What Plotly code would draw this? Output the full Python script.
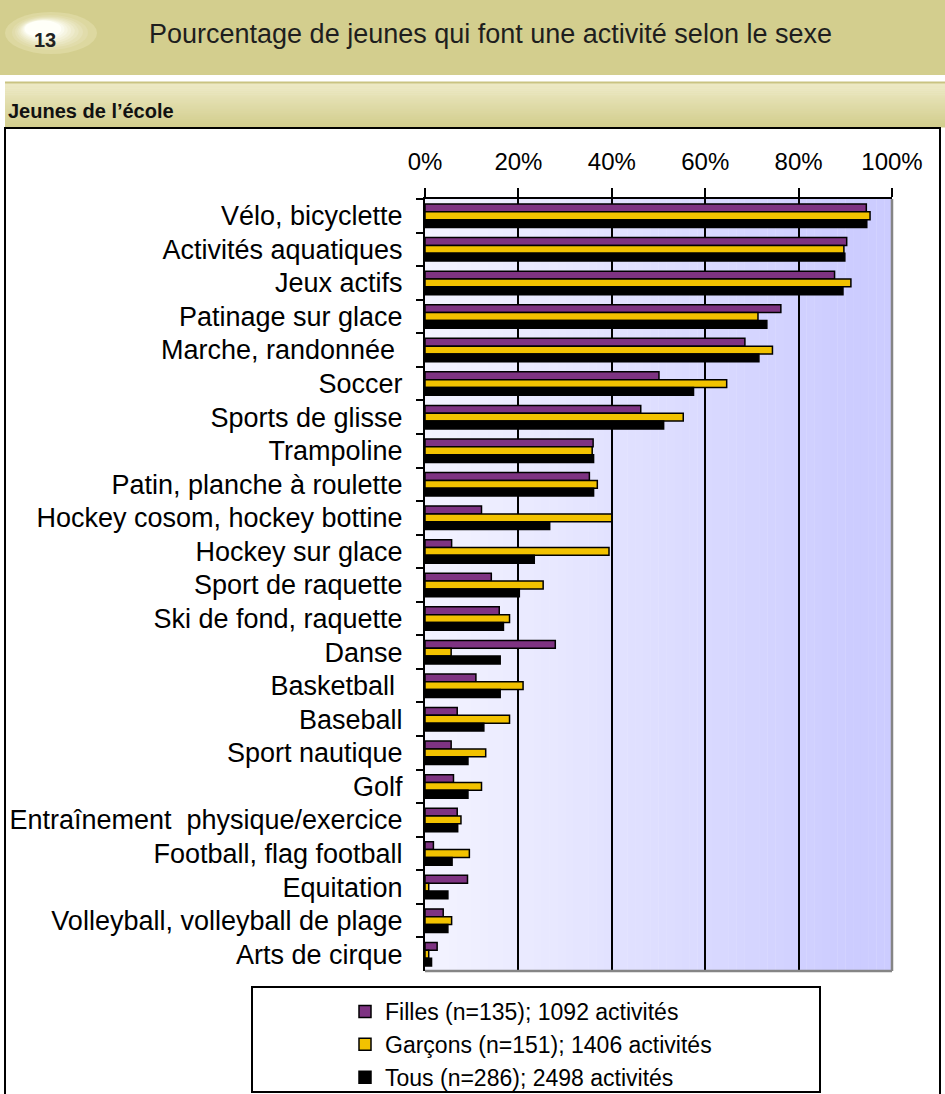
import plotly.graph_objects as go

categories = [
    "Vélo, bicyclette", "Activités aquatiques", "Jeux actifs", "Patinage sur glace",
    "Marche, randonnée ", "Soccer", "Sports de glisse", "Trampoline",
    "Patin, planche à roulette", "Hockey cosom, hockey bottine", "Hockey sur glace",
    "Sport de raquette", "Ski de fond, raquette", "Danse", "Basketball ", "Baseball",
    "Sport nautique", "Golf", "Entraînement  physique/exercice", "Football, flag football",
    "Equitation", "Volleyball, volleyball de plage", "Arts de cirque",
]
filles = [94.5, 90.3, 87.7, 76.2, 68.5, 50.1, 46.2, 36.0, 35.2, 12.1, 5.7, 14.2,
          15.9, 27.9, 10.9, 6.9, 5.6, 6.1, 6.9, 1.8, 9.1, 3.9, 2.6]
garcons = [95.3, 89.7, 91.2, 71.3, 74.4, 64.6, 55.3, 35.8, 36.9, 40.0, 39.4, 25.3,
           18.1, 5.6, 21.0, 18.1, 13.0, 12.1, 7.7, 9.5, 0.8, 5.7, 0.8]
tous = [94.6, 89.9, 89.5, 73.2, 71.5, 57.5, 51.1, 36.1, 36.1, 26.7, 23.4, 20.2,
        16.8, 16.1, 16.1, 12.6, 9.2, 9.2, 7.0, 5.8, 4.9, 4.9, 1.4]
series_names = ["Filles (n=135); 1092 activités", "Garçons (n=151); 1406 activités",
                "Tous (n=286); 2498 activités"]
series_colors = ["#7E3382", "#F2C200", "#000000"]
x_ticks = [0, 20, 40, 60, 80, 100]
x_tick_labels = ["0%", "20%", "40%", "60%", "80%", "100%"]

W_FIG, H_FIG = 945, 1094
L, R, T, B = 425, 892, 199, 971
MB = 5
PAPER_BOTTOM = H_FIG - MB


def px(x):
    return (x - L) / (R - L)


def py(y):
    return (PAPER_BOTTOM - y) / (PAPER_BOTTOM - T)


FONT = "Liberation Sans, Arial, sans-serif"

fig = go.Figure()
for name, vals, col in zip(series_names, [filles, garcons, tous], series_colors):
    fig.add_trace(go.Bar(
        y=categories, x=vals, name=name, orientation="h", legendgroup=name,
        marker=dict(color=col, line=dict(color="#000000", width=1.5)),
    ))

shapes = []
# header band
shapes.append(dict(type="rect", xref="paper", yref="paper", x0=px(0), x1=px(945),
                   y0=py(75), y1=py(0), fillcolor="#D3CE8E", line=dict(width=0), layer="below"))
# badge (radial-ish gradient)
badge_steps = 9
for i in range(badge_steps):
    f = i / (badge_steps - 1)
    r = int(0xDD + (0xFF - 0xDD) * f)
    g = int(0xD8 + (0xFF - 0xD8) * f)
    b = int(0xA0 + (0xF8 - 0xA0) * f)
    sx = 46 * (1 - 0.6 * f ** 0.6)
    sy = 21 * (1 - 0.6 * f ** 0.6)
    cx, cy = 51 - 8 * f, 33 - 4 * f
    shapes.append(dict(type="circle", xref="paper", yref="paper",
                       x0=px(cx - sx), x1=px(cx + sx), y0=py(cy + sy), y1=py(cy - sy),
                       fillcolor=f"rgb({r},{g},{b})", line=dict(width=0), layer="below"))
# sub header band with vertical gradient
sub_steps = 22
y_top, y_bot = 82, 127
for i in range(sub_steps):
    f = i / (sub_steps - 1)
    ya = y_top + (y_bot - y_top) * i / sub_steps
    yb = y_top + (y_bot - y_top) * (i + 1) / sub_steps
    r = int(0xEE + (0xD3 - 0xEE) * f)
    g = int(0xEA + (0xCE - 0xEA) * f)
    b = int(0xC6 + (0x8E - 0xC6) * f)
    shapes.append(dict(type="rect", xref="paper", yref="paper", x0=px(5), x1=px(945),
                       y0=py(yb + 0.6), y1=py(ya), fillcolor=f"rgb({r},{g},{b})",
                       line=dict(width=0), layer="below"))
shapes.append(dict(type="line", xref="paper", yref="paper", x0=px(5), x1=px(945),
                   y0=py(82.5), y1=py(82.5), line=dict(color="#C9C382", width=2), layer="below"))
# chart frame
shapes.append(dict(type="rect", xref="paper", yref="paper", x0=px(5), x1=px(940),
                   y0=py(1100), y1=py(128), line=dict(color="#000000", width=2),
                   fillcolor="rgba(0,0,0,0)", layer="below"))
# plot-area gradient background
n_strips = 60
for i in range(n_strips):
    xa = 100 * i / n_strips
    xb = 100 * (i + 1) / n_strips
    f = min(1.0, (xa + xb) / 2 / 92)
    r = int(244 + (204 - 244) * f)
    g = int(244 + (204 - 244) * f)
    shapes.append(dict(type="rect", xref="x", yref="y domain", x0=xa, x1=xb + 0.05, y0=0, y1=1,
                       fillcolor=f"rgb({r},{g},255)", line=dict(width=0), layer="below"))
# grey right & bottom edges
shapes.append(dict(type="line", xref="x domain", yref="y domain", x0=1, x1=1, y0=0, y1=1,
                   line=dict(color="#858585", width=2.5), layer="above"))
shapes.append(dict(type="line", xref="x domain", yref="y domain", x0=0, x1=1, y0=0, y1=0,
                   line=dict(color="#858585", width=2.5), layer="above"))
# legend frame
shapes.append(dict(type="rect", xref="paper", yref="paper", x0=px(252), x1=px(820),
                   y0=py(1092), y1=py(987), line=dict(color="#000000", width=2),
                   fillcolor="rgba(0,0,0,0)", layer="above"))

annotations = [
    dict(text="13", xref="paper", yref="paper", x=px(45), y=py(40), showarrow=False,
         font=dict(family=FONT, size=20, color="#222222", weight="bold"),
         xanchor="center", yanchor="middle"),
    dict(text="Pourcentage de jeunes qui font une activité selon le sexe", xref="paper",
         yref="paper", x=px(147), y=py(34), showarrow=False, xanchor="left", yanchor="middle",
         font=dict(family=FONT, size=27, color="#1E1E1E")),
    dict(text="Jeunes de l’école", xref="paper", yref="paper", x=px(6), y=py(111),
         showarrow=False, xanchor="left", yanchor="middle",
         font=dict(family=FONT, size=20, color="#111111", weight="bold")),
]

fig.update_layout(
    width=W_FIG, height=H_FIG,
    margin=dict(l=L, r=W_FIG - R, t=T, b=MB, pad=0, autoexpand=False),
    paper_bgcolor="#FFFFFF", plot_bgcolor="#F2F2FF",
    barmode="group", bargap=0.3, bargroupgap=0.0,
    font=dict(family=FONT, color="#000000"),
    shapes=shapes, annotations=annotations,
    showlegend=True,
    legend=dict(x=px(345), xanchor="left", y=py(990), yanchor="top",
                font=dict(family=FONT, size=23, color="#000000"),
                bgcolor="rgba(0,0,0,0)", borderwidth=0, tracegroupgap=6,
                traceorder="normal", itemwidth=30),
    xaxis=dict(side="top", range=[0, 100], tickvals=x_ticks, ticktext=x_tick_labels,
               showgrid=True, gridcolor="#000000", gridwidth=1.6, zeroline=False,
               showline=True, linecolor="#000000", linewidth=1.6,
               ticks="outside", ticklen=9, tickwidth=1.6, tickcolor="#000000",
               tickfont=dict(family=FONT, size=24, color="#000000"),
               ticklabelstandoff=9, fixedrange=True),
    yaxis=dict(autorange="reversed", type="category", showgrid=False,
               domain=[py(B), 1],
               showline=True, linecolor="#000000", linewidth=2,
               ticks="outside", ticklen=7, tickwidth=1.6, tickcolor="#000000",
               tickson="boundaries",
               tickfont=dict(family=FONT, size=27, color="#000000"),
               ticklabelstandoff=15, fixedrange=True),
)

fig.write_html("out.html", config={"displayModeBar": False},
               post_script="document.body.style.margin='0px';")
